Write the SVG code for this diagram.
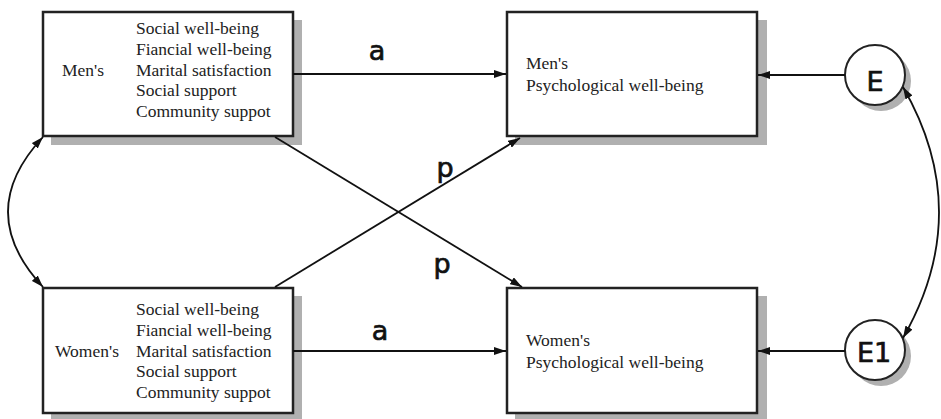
<svg xmlns="http://www.w3.org/2000/svg" width="941" height="419" viewBox="0 0 941 419">
<defs>
<style>
.box{fill:#fff;stroke:#222;stroke-width:2.5}
.sh{fill:#b0b0b0}
.t{font-family:"Liberation Serif",serif;font-size:17.5px;fill:#222}
.l{font-family:"DejaVu Sans","Liberation Sans",sans-serif;font-size:27px;fill:#111;stroke:#111;stroke-width:0.7}
.c{fill:none;stroke:#111;stroke-width:1.8}
</style>
<marker id="ah" viewBox="0 0 12 8" refX="12" refY="4" markerWidth="12" markerHeight="8" markerUnits="userSpaceOnUse" orient="auto-start-reverse">
<path d="M0,0 L12,4 L0,8 Z" fill="#111"/>
</marker>
</defs>
<rect x="0" y="0" width="941" height="419" fill="#fff"/>
<g id="men">
<rect class="sh" x="51" y="20" width="251" height="125"/>
<rect class="box" x="43" y="12" width="250" height="124"/>
<text class="t" x="62" y="76">Men's</text>
<text class="t" x="136" y="34">Social well-being</text>
<text class="t" x="136" y="55">Fiancial well-being</text>
<text class="t" x="136" y="76">Marital satisfaction</text>
<text class="t" x="136" y="96">Social support</text>
<text class="t" x="136" y="117">Community suppot</text>
</g>
<g id="women">
<rect class="sh" x="51" y="296" width="251" height="125"/>
<rect class="box" x="43" y="288" width="250" height="125"/>
<text class="t" x="55" y="357">Women's</text>
<text class="t" x="136" y="315">Social well-being</text>
<text class="t" x="136" y="336">Fiancial well-being</text>
<text class="t" x="136" y="357">Marital satisfaction</text>
<text class="t" x="136" y="377">Social support</text>
<text class="t" x="136" y="398">Community suppot</text>
</g>
<g id="menpsy">
<rect class="sh" x="515" y="20" width="252" height="125"/>
<rect class="box" x="507" y="12" width="250" height="124"/>
<text class="t" x="526" y="69">Men's</text>
<text class="t" x="526" y="91">Psychological well-being</text>
</g>
<g id="womenpsy">
<rect class="sh" x="515" y="296" width="252" height="125"/>
<rect class="box" x="507" y="288" width="250" height="125"/>
<text class="t" x="526" y="346">Women's</text>
<text class="t" x="526" y="368">Psychological well-being</text>
</g>
<g id="E">
<circle cx="881" cy="81" r="30" fill="#b0b0b0"/>
<circle cx="875" cy="75" r="30" fill="#fff" stroke="#222" stroke-width="2"/>
<text class="l" x="875" y="91" text-anchor="middle">E</text>
</g>
<g id="E1">
<circle cx="881" cy="356" r="30" fill="#b0b0b0"/>
<circle cx="875" cy="350" r="30" fill="#fff" stroke="#222" stroke-width="2"/>
<text class="l" x="874" y="362" text-anchor="middle">E1</text>
</g>
<g id="connectors">
<line class="c" x1="293" y1="74" x2="506" y2="74" marker-end="url(#ah)"/>
<line class="c" x1="293" y1="351" x2="506" y2="351" marker-end="url(#ah)"/>
<line class="c" x1="275" y1="137" x2="522" y2="287" marker-end="url(#ah)"/>
<line class="c" x1="275" y1="287" x2="520" y2="138" marker-end="url(#ah)"/>
<line class="c" x1="845" y1="75" x2="758" y2="75" marker-end="url(#ah)"/>
<line class="c" x1="845" y1="351" x2="758" y2="351" marker-end="url(#ah)"/>
<path class="c" d="M43,137 Q-27,212 43,287" marker-start="url(#ah)" marker-end="url(#ah)"/>
<path class="c" d="M903,87 Q975,212 903,338" marker-start="url(#ah)" marker-end="url(#ah)"/>
<text class="l" x="377" y="60" text-anchor="middle">a</text>
<text class="l" x="380" y="340" text-anchor="middle">a</text>
<text class="l" x="445" y="177" text-anchor="middle">p</text>
<text class="l" x="442" y="273" text-anchor="middle">p</text>
</g>
</svg>
